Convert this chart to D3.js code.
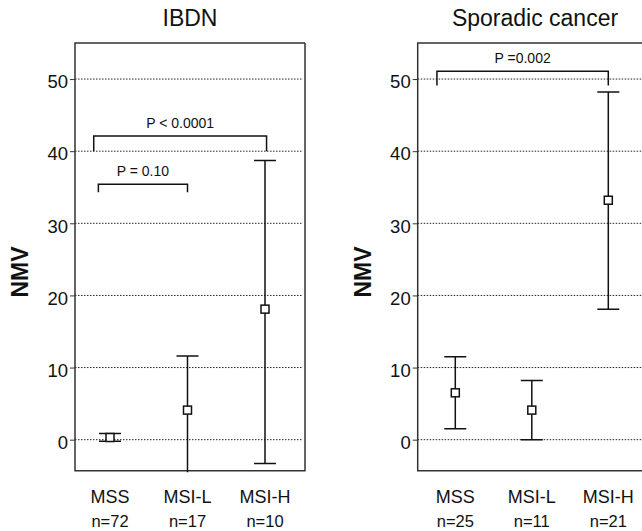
<!DOCTYPE html>
<html>
<head>
<meta charset="utf-8">
<script src="https://cdn.jsdelivr.net/npm/d3@7"></script>
<style>
  body { margin: 0; background: #fff; }
  svg { font-family: "Liberation Sans", Arial, sans-serif; }
</style>
</head>
<body>
<script>
// groups on the x axis
var categories = ["MSS", "MSI-L", "MSI-H"];

// IBDN panel
var ibdnN     = ["n=72", "n=17", "n=10"];
var ibdnMean  = [0.3, 4.1, 18.1];
var ibdnUpper = [0.85, 11.6, 38.7];
var ibdnLower = [-0.2, -6, -3.3];

// Sporadic cancer panel
var sporN     = ["n=25", "n=11", "n=21"];
var sporMean  = [6.5, 4.1, 33.2];
var sporUpper = [11.5, 8.2, 48.2];
var sporLower = [1.5, 0, 18.1];

var yTicks = [0, 10, 20, 30, 40, 50];

// p-value brackets: start / end in category index units, top and foot value
var ibdnBrackets = [
  {label: "P < 0.0001", from: -0.21, to: 2.02, top: 42.1, foot: 40},
  {label: "P = 0.10",   from: -0.15, to: 1.0,  top: 35.4, foot: 34.3}
];
var sporBrackets = [
  {label: "P =0.002",   from: -0.24, to: 2.0,  top: 51.1, foot: 49.1}
];

var w = 642, h = 531;
var svg = d3.select("body").append("svg")
    .attr("width", w)
    .attr("height", h);

var yScale = d3.scaleLinear()
    .domain([-4.3, 55])
    .range([470.7, 43]);

function panel(cfg) {
    var g = svg.append("g");
    var xScale = d3.scalePoint().domain(categories).range(cfg.xr);
    var xIdx = d3.scaleLinear().domain([0, 2]).range(cfg.xr);
    var top = yScale.range()[1], bottom = yScale.range()[0];

    var clipId = "clip" + cfg.id;
    svg.append("clipPath").attr("id", clipId)
        .append("rect")
        .attr("x", cfg.left).attr("y", top)
        .attr("width", cfg.right - cfg.left).attr("height", bottom - top + 1.5);

    // dotted grid
    g.selectAll(".grid")
        .data(yTicks)
        .enter().append("line")
        .attr("x1", cfg.left).attr("x2", cfg.right - 2)
        .attr("y1", function(d) { return yScale(d); })
        .attr("y2", function(d) { return yScale(d); })
        .attr("stroke", "#222")
        .attr("stroke-width", 1)
        .attr("stroke-dasharray", "1.5,1.5");

    // y axis
    var yAxis = d3.axisLeft(yScale).tickValues(yTicks).tickSize(5).tickPadding(2);
    var ax = g.append("g")
        .attr("transform", "translate(" + cfg.left + ",0)")
        .call(yAxis);
    ax.select(".domain").remove();
    ax.selectAll(".tick line").attr("stroke", "#333");
    ax.selectAll(".tick text")
        .attr("font-size", 18.5)
        .attr("fill", "#111")
        .attr("dy", "0.47em");

    // box
    g.append("path")
        .attr("d", "M" + cfg.right + "," + top + "H" + cfg.left + "V" + bottom + "H" + cfg.right +
              (cfg.closed ? "V" + top : ""))
        .attr("fill", "none")
        .attr("stroke", "#333")
        .attr("stroke-width", 1.5);

    // error bars
    var bars = g.append("g").attr("clip-path", "url(#" + clipId + ")");
    var capHalf = 11;
    categories.forEach(function(c, i) {
        var x = xScale(c);
        bars.append("line")
            .attr("x1", x).attr("x2", x)
            .attr("y1", yScale(cfg.upper[i])).attr("y2", yScale(cfg.lower[i]))
            .attr("stroke", "#111").attr("stroke-width", 1.5);
        [cfg.upper[i], cfg.lower[i]].forEach(function(v) {
            bars.append("line")
                .attr("x1", x - capHalf).attr("x2", x + capHalf)
                .attr("y1", yScale(v)).attr("y2", yScale(v))
                .attr("stroke", "#111").attr("stroke-width", 1.5);
        });
        bars.append("rect")
            .attr("x", x - 4).attr("y", yScale(cfg.mean[i]) - 4)
            .attr("width", 8).attr("height", 8)
            .attr("fill", "#fff")
            .attr("stroke", "#111").attr("stroke-width", 1.5);
    });

    // brackets
    cfg.brackets.forEach(function(b) {
        var x0 = xIdx(b.from), x1 = xIdx(b.to);
        g.append("path")
            .attr("d", "M" + x0 + "," + yScale(b.foot) + "V" + yScale(b.top) + "H" + x1 + "V" + yScale(b.foot))
            .attr("fill", "none")
            .attr("stroke", "#111")
            .attr("stroke-width", 1.5);
        g.append("text")
            .attr("x", (x0 + x1) / 2)
            .attr("y", yScale(b.top) - 8)
            .attr("text-anchor", "middle")
            .attr("font-size", 14)
            .attr("fill", "#111")
            .text(b.label);
    });

    // category labels
    g.selectAll(".cat")
        .data(categories)
        .enter().append("text")
        .attr("x", function(d) { return xScale(d); })
        .attr("y", 502.5)
        .attr("text-anchor", "middle")
        .attr("font-size", 18)
        .attr("fill", "#111")
        .text(function(d) { return d; });

    g.selectAll(".n")
        .data(cfg.n)
        .enter().append("text")
        .attr("x", function(d, i) { return xScale(categories[i]); })
        .attr("y", 527)
        .attr("text-anchor", "middle")
        .attr("font-size", 16.5)
        .attr("fill", "#111")
        .text(function(d) { return d; });

    // title
    g.append("text")
        .attr("x", cfg.titleX)
        .attr("y", 26)
        .attr("text-anchor", "middle")
        .attr("font-size", 23)
        .attr("fill", "#111")
        .text(cfg.title);

    // y label
    g.append("text")
        .attr("transform", "translate(" + (cfg.labelX + 8) + ",272) rotate(-90)")
        .attr("text-anchor", "middle")
        .attr("font-size", 23)
        .attr("font-weight", "bold")
        .attr("fill", "#111")
        .text("NMV");
}

panel({
    id: 1, title: "IBDN", titleX: 190, labelX: 19.5,
    left: 75, right: 305, closed: true, xr: [110, 265],
    n: ibdnN, mean: ibdnMean, upper: ibdnUpper, lower: ibdnLower,
    brackets: ibdnBrackets
});

panel({
    id: 2, title: "Sporadic cancer", titleX: 535, labelX: 363,
    left: 417.7, right: 644, closed: false, xr: [455.3, 608.3],
    n: sporN, mean: sporMean, upper: sporUpper, lower: sporLower,
    brackets: sporBrackets
});
</script>
</body>
</html>
